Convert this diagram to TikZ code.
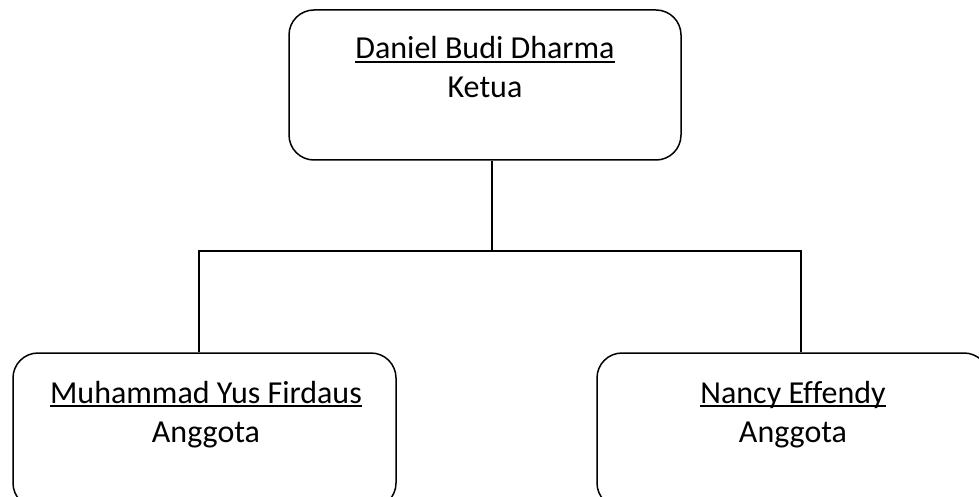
\documentclass[tikz,border=0pt]{standalone}
\usepackage{fontspec}
\setmainfont{Carlito}[Ligatures=NoCommon]
\begin{document}
\begin{tikzpicture}[x=1pt,y=-1pt,
  box/.style={draw=black, line width=1.5pt, rounded corners=25pt, inner sep=0pt},
  txt/.style={inner sep=0pt, anchor=base, font=\fontsize{32}{38}\selectfont},
  conn/.style={draw=black, line width=1.5pt},
  uline/.style={draw=black, line width=1.6pt}]
\useasboundingbox (0,0) rectangle (979,497);
% boxes
\node[box, minimum width=392pt, minimum height=150pt] (top) at (485,85) {};
\node[box, minimum width=383pt, minimum height=155pt] (left) at (204.5,430.5) {};
\node[box, minimum width=392pt, minimum height=155pt] (right) at (793,430.5) {};
% texts
\node[txt] (n1) at (485,59) {Daniel Budi Dharma};
\node[txt] (r1) at (485,98) {Ketua};
\node[txt] (n2) at (206,403) {Muhammad Yus Firdaus};
\node[txt] (r2) at (206,442) {Anggota};
\node[txt] (n3) at (793,403) {Nancy Effendy};
\node[txt] (r3) at (793,442) {Anggota};
% underlines
\draw[uline] ([yshift=-3pt]n1.base west) -- ([yshift=-3pt]n1.base east);
\draw[uline] ([yshift=-3pt]n2.base west) -- ([yshift=-3pt]n2.base east);
\draw[uline] ([yshift=-3pt]n3.base west) -- ([yshift=-3pt]n3.base east);
% connectors
\coordinate (junc) at (492,251);
\coordinate (lj) at (199,251);
\coordinate (rj) at (801,251);
\draw[conn] (junc |- top.south) -- (junc);
\draw[conn] (lj |- left.north) -- (lj) -- (rj) -- (rj |- right.north);
\end{tikzpicture}
\end{document}
